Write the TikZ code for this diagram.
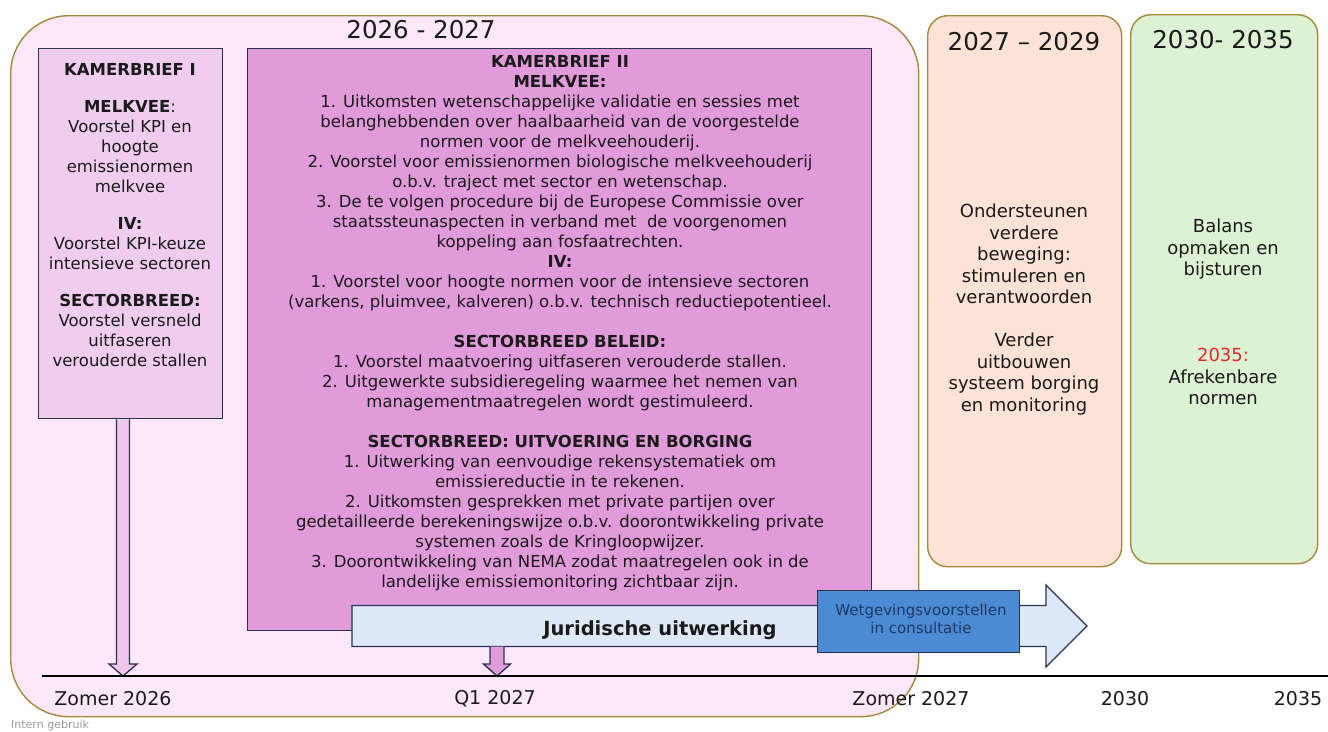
\documentclass[tikz,border=0pt]{standalone}
\usepackage{fontspec}
\setmainfont{DejaVu Sans}
\definecolor{bigpink}{HTML}{FCE8FA}
\definecolor{gold}{HTML}{A5883C}
\definecolor{kbone}{HTML}{F0CDEE}
\definecolor{kbtwo}{HTML}{E29BDA}
\definecolor{arrowpink}{HTML}{EFC8EA}
\definecolor{navy}{HTML}{27324F}
\definecolor{jurblue}{HTML}{DDE9F6}
\definecolor{wetblue}{HTML}{4A8BD3}
\definecolor{wettext}{HTML}{1F3864}
\definecolor{peach}{HTML}{FCE3D5}
\definecolor{mint}{HTML}{DDF1D3}
\definecolor{redtxt}{HTML}{E02A2A}
\definecolor{txtcol}{HTML}{1A1A1A}
\definecolor{graytxt}{HTML}{9A9A9A}
\begin{document}
\begin{tikzpicture}[x=1pt,y=-1pt,
  panel/.style={draw=gold,line width=1.4pt,anchor=north west,inner sep=0pt},
  kbox/.style={draw=navy,line width=1.4pt,anchor=north west,inner sep=0pt},
  bodytxt/.style={font=\fontsize{16.5}{20}\selectfont,align=center,inner sep=0pt,text=txtcol},
  bigtxt/.style={font=\fontsize{18}{21.5}\selectfont,align=center,inner sep=0pt,text=txtcol},
  titletxt/.style={font=\fontsize{24.5}{28}\selectfont,inner sep=0pt,text=txtcol},
  datelbl/.style={font=\fontsize{19}{22}\selectfont,inner sep=0pt,text=txtcol},
  blockarrow/.style={draw=navy,line width=1.3pt,line join=miter}
]
\useasboundingbox (0,0) rectangle (1328,731);
\fill[white] (0,0) rectangle (1328,731);

% period panels
\node[panel,fill=bigpink,rounded corners=58pt,minimum width=908pt,minimum height=701pt] (p1) at (10,15) {};
\node[panel,fill=peach,rounded corners=20pt,minimum width=194pt,minimum height=551pt] (p2) at (927,15) {};
\node[panel,fill=mint,rounded corners=20pt,minimum width=187pt,minimum height=549pt] (p3) at (1130,14) {};

\node[titletxt] (t1) at (421,30) {2026 - 2027};
\node[titletxt] (t2) at (1024,42) {2027 – 2029};
\node[titletxt] (t3) at (1223,40) {2030- 2035};

% Kamerbrief I
\node[kbox,fill=kbone,minimum width=184pt,minimum height=370pt] (kb1) at (38,48) {};
\node[bodytxt,anchor=north] (kb1t) at (130,63) {\textbf{KAMERBRIEF I}\\[17pt]
\textbf{MELKVEE}:\\ Voorstel KPI en\\ hoogte\\ emissienormen\\ melkvee\\[17pt]
\textbf{IV:}\\ Voorstel KPI-keuze\\ intensieve sectoren\\[17pt]
\textbf{SECTORBREED:}\\ Voorstel versneld\\ uitfaseren\\ verouderde stallen};

% Kamerbrief II
\node[kbox,fill=kbtwo,minimum width=624pt,minimum height=582pt] (kb2) at (247,48) {};
\node[bodytxt,anchor=north] (kb2t) at (560,55) {\textbf{KAMERBRIEF II}\\
\textbf{MELKVEE:}\\
1. Uitkomsten wetenschappelijke validatie en sessies met\\
belanghebbenden over haalbaarheid van de voorgestelde\\
normen voor de melkveehouderij.\\
2. Voorstel voor emissienormen biologische melkveehouderij\\
o.b.v. traject met sector en wetenschap.\\
3. De te volgen procedure bij de Europese Commissie over\\
staatssteunaspecten in verband met\ \ de voorgenomen\\
koppeling aan fosfaatrechten.\\
\textbf{IV:}\\
1. Voorstel voor hoogte normen voor de intensieve sectoren\\
(varkens, pluimvee, kalveren) o.b.v. technisch reductiepotentieel.\\[20pt]
\textbf{SECTORBREED BELEID:}\\
1. Voorstel maatvoering uitfaseren verouderde stallen.\\
2. Uitgewerkte subsidieregeling waarmee het nemen van\\
managementmaatregelen wordt gestimuleerd.\\[20pt]
\textbf{SECTORBREED: UITVOERING EN BORGING}\\
1. Uitwerking van eenvoudige rekensystematiek om\\
emissiereductie in te rekenen.\\
2. Uitkomsten gesprekken met private partijen over\\
gedetailleerde berekeningswijze o.b.v. doorontwikkeling private\\
systemen zoals de Kringloopwijzer.\\
3. Doorontwikkeling van NEMA zodat maatregelen ook in de\\
landelijke emissiemonitoring zichtbaar zijn.};

% later periods
\node[bigtxt,anchor=north] (p2t) at (1024,204) {Ondersteunen\\ verdere\\ beweging:\\ stimuleren en\\ verantwoorden\\[21.5pt]
Verder\\ uitbouwen\\ systeem borging\\ en monitoring};
\node[bigtxt,anchor=north] (p3t) at (1223,219) {Balans\\ opmaken en\\ bijsturen\\[64.5pt]
\textcolor{redtxt}{2035:}\\ Afrekenbare\\ normen};

% timeline
\coordinate (tl0) at (42,676);
\coordinate (tl1) at (1328,676);

% arrow Kamerbrief I -> timeline
\coordinate (a1tip) at (123,676);
\draw[blockarrow,fill=arrowpink]
  ([xshift=-6.5pt]kb1.south -| a1tip) -- ([xshift=-6.5pt,yshift=12pt]a1tip)
  -- ([xshift=-14pt,yshift=12pt]a1tip) -- (a1tip)
  -- ([xshift=14pt,yshift=12pt]a1tip) -- ([xshift=6.5pt,yshift=12pt]a1tip)
  -- ([xshift=6.5pt]kb1.south -| a1tip);

% Juridische uitwerking block arrow
\coordinate (jl) at (352,626);
\coordinate (jt) at (1087,626);
\draw[blockarrow,fill=jurblue]
  ([yshift=20.5pt]jl) -- ([xshift=-41pt,yshift=20.5pt]jt) -- ([xshift=-41pt,yshift=41pt]jt)
  -- (jt) -- ([xshift=-41pt,yshift=-41pt]jt) -- ([xshift=-41pt,yshift=-20.5pt]jt)
  -- ([yshift=-20.5pt]jl) -- cycle;
\node[font=\bfseries\fontsize{19.5}{22}\selectfont,text=txtcol,inner sep=0pt] (jur) at (660,630) {Juridische uitwerking};

% Q1 arrow
\coordinate (q1s) at (497,646.5);
\coordinate (q1tip) at (497,676);
\draw[blockarrow,fill=kbtwo]
  ([xshift=-7pt]q1s) -- ([xshift=-7pt,yshift=12pt]q1tip) -- ([xshift=-13.5pt,yshift=12pt]q1tip)
  -- (q1tip) -- ([xshift=13.5pt,yshift=12pt]q1tip) -- ([xshift=7pt,yshift=12pt]q1tip)
  -- ([xshift=7pt]q1s);

% Wetgevingsvoorstellen
\node[kbox,fill=wetblue,minimum width=202pt,minimum height=62pt] (wet) at (817,590) {};
\node[font=\fontsize{15}{18}\selectfont,text=wettext,align=center,inner sep=0pt] (wett) at (921,619) {Wetgevingsvoorstellen\\ in consultatie};

\draw[line width=1.6pt,black] (tl0) -- (tl1);

% date labels
\node[datelbl] (d1) at (113,699) {Zomer 2026};
\node[datelbl] (d2) at (495,699) {Q1 2027};
\node[datelbl] (d3) at (911,699) {Zomer 2027};
\node[datelbl] (d4) at (1125,699) {2030};
\node[datelbl] (d5) at (1298,699) {2035};

\node[font=\fontsize{11}{13}\selectfont,text=graytxt,anchor=west,inner sep=0pt] (ig) at (11,725) {Intern gebruik};
\end{tikzpicture}
\end{document}
